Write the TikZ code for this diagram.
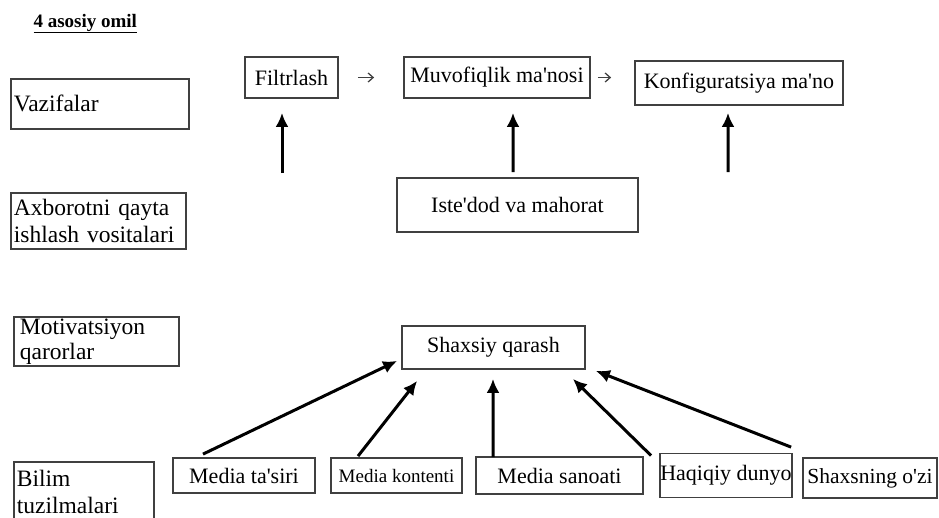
\documentclass[tikz,border=0pt]{standalone}
\usepackage{fontspec}
\setmainfont{Liberation Serif}
\usetikzlibrary{arrows.meta, positioning}

\begin{document}
\begin{tikzpicture}[x=1pt,y=-1pt,>={Latex[length=14pt,width=13pt]},font=\fontsize{22}{27}\selectfont]

	\tikzset{box st/.style={draw=black!75, line width=1.8pt, inner sep=0pt, align=center},
		side st/.style={box st, anchor=north west, align=left, inner xsep=3pt, font=\fontsize{23.5}{27}\selectfont},
		big st/.style={->, line width=3pt},
		thin st/.style={-{Straight Barb[length=5pt,width=9pt]}, line width=1.3pt, draw=black!75}}

	\useasboundingbox (0,0) rectangle (939,517);

	\node[anchor=base west, font=\fontsize{19}{20}\selectfont\bfseries] (title) at (30,27) {\underline{4 asosiy omil}};

	% chap ustun
	\node[side st, text width=172pt, minimum height=50pt] (vaz) at (10,78) {Vazifalar};
	\node[side st, text width=169pt, minimum height=56pt] (axb) at (10,192) {Axborotni qayta\\ishlash vositalari};
	\node[side st, inner xsep=6pt, text width=153pt, minimum height=49pt, font=\fontsize{23.5}{25}\selectfont] (mot) at (13,316) {Motivatsiyon\\qarorlar};
	\node[side st, text width=134pt, minimum height=60pt] (bil) at (13,461) {Bilim\\tuzilmalari};

	% vazifalar qatori
	\node[box st, minimum width=93pt, minimum height=41pt] (filt) at (291.5,77.5) {Filtrlash};
	\node[box st, minimum width=186pt, minimum height=41pt, right=64.2pt of filt] (muv) {Muvofiqlik ma\textquotesingle{}nosi};
	\node[box st, minimum width=208pt, minimum height=44pt, right=43.2pt of muv, yshift=-5.5pt] (konf) {Konfiguratsiya ma\textquotesingle{}no};

	\node[box st, minimum width=241pt, minimum height=54pt] (iste) at (517.5,205) {Iste\textquotesingle{}dod va mahorat};
	\node[box st, minimum width=183pt, minimum height=43pt] (shax) at (493.5,347.5) {Shaxsiy qarash};

	% bilim qatori
	\node[box st, minimum width=142pt, minimum height=35pt] (mta) at (244,475.5) {Media ta\textquotesingle{}siri};
	\node[box st, minimum width=131pt, minimum height=35pt, right=14.2pt of mta, font=\fontsize{19}{22}\selectfont] (mko) {Media kontenti};
	\node[box st, minimum width=167pt, minimum height=37pt, right=12.2pt of mko] (msa) {Media sanoati};
	\node[box st, minimum width=132pt, minimum height=44pt, right=15.2pt of msa] (haq) {Haqiqiy dunyo};
	\node[box st, minimum width=134pt, minimum height=40pt, right=9.2pt of haq, yshift=-2.5pt, font=\fontsize{21.5}{24}\selectfont] (sho) {Shaxsning o\textquotesingle{}zi};

	\coordinate (fbase) at (282,173);
	\coordinate (kbase) at (728,172);

	\draw[thin st, shorten <=19pt, shorten >=29pt] (filt) -- (muv);
	\draw[thin st, shorten <=7pt, shorten >=23pt] (muv.east) -- (muv.east -| konf.west);

	\draw[big st, shorten >=14pt] (fbase) -- (fbase |- filt.south);
	\draw[big st] ([xshift=-4.5pt,yshift=5pt]iste.north) -- ([xshift=16pt,yshift=-14pt]muv.south);
	\draw[big st] (kbase) -- ([xshift=-11pt,yshift=-7pt]konf.south);

	\draw[big st] ([xshift=-41pt,yshift=3pt]mta.north) -- ([xshift=-4pt,yshift=9pt]shax.south west);
	\draw[big st] ([xshift=-38.5pt,yshift=1pt]mko.north) -- ([xshift=16pt,yshift=-11pt]shax.south west);
	\draw[big st] ([xshift=-66.5pt,yshift=-1pt]msa.north) -- ([xshift=-0.5pt,yshift=-9pt]shax.south);
	\draw[big st] ([xshift=-8pt,yshift=-3pt]haq.north west) -- ([xshift=-13pt,yshift=-9pt]shax.south east);
	\draw[big st] ([xshift=-11pt,yshift=10pt]sho.north west) -- ([xshift=10pt,yshift=-1pt]shax.south east);

\end{tikzpicture}
\end{document}
